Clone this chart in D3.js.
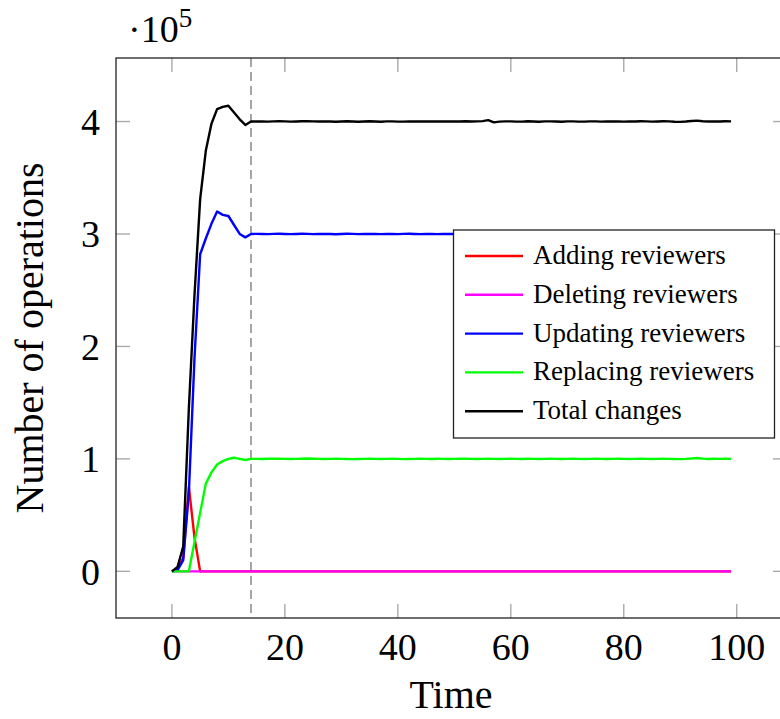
<!DOCTYPE html>
<html>
<head>
<meta charset="utf-8">
<script src="https://cdn.jsdelivr.net/npm/d3@7"></script>
<style>
  html, body { margin: 0; padding: 0; background: #fff; }
  svg { display: block; }
  text { font-family: "Liberation Serif", "Times New Roman", serif; fill: #000; }
</style>
</head>
<body>
<svg id="chart" width="780" height="719"></svg>
<script>
// ---- data (values in units of 10^5 operations) ----
const time = d3.range(0, 100);
const seriesNames = ["Adding reviewers", "Deleting reviewers", "Updating reviewers", "Replacing reviewers", "Total changes"];
const seriesColors = ["#ff0000", "#ff00ff", "#0000ff", "#00ff00", "#000000"];

const adding = [
  0, 0.02, 0.12, 0.75, 0.30, 0, 0, 0, 0, 0,
  0, 0, 0, 0, 0, 0, 0, 0, 0, 0,
  0, 0, 0, 0, 0, 0, 0, 0, 0, 0,
  0, 0, 0, 0, 0, 0, 0, 0, 0, 0,
  0, 0, 0, 0, 0, 0, 0, 0, 0, 0,
  0, 0, 0, 0, 0, 0, 0, 0, 0, 0,
  0, 0, 0, 0, 0, 0, 0, 0, 0, 0,
  0, 0, 0, 0, 0, 0, 0, 0, 0, 0,
  0, 0, 0, 0, 0, 0, 0, 0, 0, 0,
  0, 0, 0, 0, 0, 0, 0, 0, 0, 0];
const deleting = [
  0, 0, 0, 0, 0, 0, 0, 0, 0, 0,
  0, 0, 0, 0, 0, 0, 0, 0, 0, 0,
  0, 0, 0, 0, 0, 0, 0, 0, 0, 0,
  0, 0, 0, 0, 0, 0, 0, 0, 0, 0,
  0, 0, 0, 0, 0, 0, 0, 0, 0, 0,
  0, 0, 0, 0, 0, 0, 0, 0, 0, 0,
  0, 0, 0, 0, 0, 0, 0, 0, 0, 0,
  0, 0, 0, 0, 0, 0, 0, 0, 0, 0,
  0, 0, 0, 0, 0, 0, 0, 0, 0, 0,
  0, 0, 0, 0, 0, 0, 0, 0, 0, 0];
const updating = [
  0, 0.01, 0.10, 0.70, 1.90, 2.82, 2.96, 3.09, 3.20, 3.17,
  3.16, 3.08, 3.00, 2.97, 3.00, 3.001, 3.000, 2.999, 3.001, 3.002,
  3.000, 2.999, 3.000, 3.002, 3.001, 2.999, 3.000, 3.001, 3.000, 2.998,
  3.000, 3.002, 3.001, 2.999, 3.000, 3.001, 3.000, 2.999, 3.001, 3.000,
  2.999, 3.001, 3.002, 3.000, 2.999, 3.000, 3.001, 2.999, 3.000, 3.001,
  3.000, 2.999, 3.001, 3.000, 3.002, 3.004, 2.997, 2.999, 3.000, 3.001,
  3.000, 2.999, 3.000, 3.001, 3.000, 2.999, 3.001, 3.000, 3.000, 2.999,
  3.001, 3.000, 2.999, 3.000, 3.001, 3.000, 2.999, 3.001, 3.000, 3.000,
  2.999, 3.001, 3.000, 2.999, 3.001, 3.000, 3.000, 2.999, 3.001, 3.000,
  2.999, 3.000, 3.001, 3.000, 2.999, 3.001, 3.000, 2.999, 3.001, 3.000];
const replacing = [
  0, 0, 0, 0, 0.26, 0.52, 0.78, 0.88, 0.95, 0.98,
  1.00, 1.01, 1.00, 0.99, 1.00, 1.000, 0.999, 1.001, 1.002, 1.001,
  1.000, 0.999, 1.000, 1.001, 1.003, 1.001, 1.000, 0.999, 1.000, 1.001,
  1.000, 0.999, 0.998, 0.999, 1.000, 1.001, 1.000, 0.999, 1.000, 1.001,
  1.000, 0.998, 0.999, 1.000, 1.001, 1.000, 0.999, 1.001, 1.000, 0.999,
  1.000, 1.001, 1.002, 1.000, 0.999, 1.000, 1.001, 1.000, 0.999, 1.000,
  1.001, 1.000, 0.999, 1.001, 1.000, 0.999, 1.000, 1.001, 1.000, 0.999,
  1.000, 1.001, 1.000, 0.999, 1.000, 1.001, 1.000, 0.999, 1.000, 1.001,
  1.000, 0.999, 1.000, 1.001, 1.000, 0.999, 1.000, 1.001, 1.000, 0.999,
  0.998, 1.000, 1.004, 1.008, 1.002, 0.999, 1.001, 1.000, 1.001, 1.000];
const total = [
  0, 0.04, 0.22, 1.45, 2.46, 3.31, 3.74, 3.98, 4.11, 4.13,
  4.14, 4.08, 4.02, 3.97, 4.00, 4.001, 4.000, 3.999, 4.001, 4.003,
  4.001, 3.999, 4.000, 4.002, 4.004, 4.001, 4.000, 4.001, 4.000, 3.998,
  4.000, 4.002, 4.000, 3.998, 4.000, 4.002, 4.000, 3.998, 4.001, 4.001,
  3.999, 3.999, 4.001, 4.000, 4.000, 4.000, 4.000, 4.000, 4.000, 4.000,
  4.000, 4.000, 4.003, 4.000, 4.001, 4.004, 4.012, 3.993, 3.999, 4.001,
  4.001, 3.999, 3.999, 4.002, 4.000, 3.998, 4.001, 4.001, 4.000, 3.998,
  4.001, 4.001, 3.999, 3.999, 4.001, 4.001, 3.999, 4.000, 4.000, 4.001,
  3.999, 4.000, 4.000, 4.002, 4.001, 3.999, 4.000, 4.002, 4.001, 3.998,
  3.997, 4.000, 4.005, 4.008, 4.002, 4.000, 4.001, 4.000, 4.002, 4.001];

const xTicks = [0, 20, 40, 60, 80, 100];
const yTicks = [0, 1, 2, 3, 4];
const markerTime = 14;
const xLabel = "Time";
const yLabel = "Number of operations";

// ---- layout ----
const svg = d3.select("#chart");
const L = 116, R = 787, T = 58, B = 618;
const x = d3.scaleLinear().domain([-9.9, 108.9]).range([L, R]);
const y = d3.scaleLinear().domain([-0.415, 4.565]).range([B, T]);

const tickLen = 14;
const tickColor = "#aaaaaa";
const tickFont = 38;

// ticks (inside, on all four sides)
const tg = svg.append("g");
xTicks.forEach(v => {
  tg.append("line").attr("x1", x(v)).attr("x2", x(v)).attr("y1", B).attr("y2", B - tickLen)
    .attr("stroke", tickColor).attr("stroke-width", 1.4);
  tg.append("line").attr("x1", x(v)).attr("x2", x(v)).attr("y1", T).attr("y2", T + tickLen)
    .attr("stroke", tickColor).attr("stroke-width", 1.4);
  svg.append("text").attr("x", x(v)).attr("y", 660).attr("text-anchor", "middle")
    .attr("font-size", tickFont).text(v);
});
yTicks.forEach(v => {
  tg.append("line").attr("x1", L).attr("x2", L + tickLen).attr("y1", y(v)).attr("y2", y(v))
    .attr("stroke", tickColor).attr("stroke-width", 1.4);
  tg.append("line").attr("x1", R).attr("x2", R - tickLen).attr("y1", y(v)).attr("y2", y(v))
    .attr("stroke", tickColor).attr("stroke-width", 1.4);
  svg.append("text").attr("x", 100).attr("y", y(v) + 13.5).attr("text-anchor", "end")
    .attr("font-size", tickFont).text(v);
});

// dashed marker line
svg.append("line").attr("x1", x(markerTime)).attr("x2", x(markerTime)).attr("y1", T).attr("y2", B)
  .attr("stroke", "#808080").attr("stroke-width", 1.4).attr("stroke-dasharray", "9,5");

// series
const seriesData = [adding, deleting, updating, replacing, total];
const line = d3.line().x((d, i) => x(time[i])).y(d => y(d));
seriesData.forEach((s, k) => {
  svg.append("path").datum(s).attr("d", line).attr("fill", "none")
    .attr("stroke", seriesColors[k]).attr("stroke-width", 2.4).attr("stroke-linejoin", "round");
});

// frame
svg.append("rect").attr("x", L).attr("y", T).attr("width", R - L).attr("height", B - T)
  .attr("fill", "none").attr("stroke", "#222").attr("stroke-width", 1.3);

// scale annotation ·10^5
const sc = svg.append("text").attr("x", 128).attr("y", 42).attr("font-size", tickFont);
sc.append("tspan").text("·10");
sc.append("tspan").attr("font-size", 27).attr("dy", -15).text("5");

// axis labels
svg.append("text").attr("x", 451).attr("y", 708).attr("text-anchor", "middle")
  .attr("font-size", 40).text(xLabel);
svg.append("text").attr("transform", `translate(43,${(T + B) / 2}) rotate(-90)`)
  .attr("text-anchor", "middle").attr("font-size", 40).text(yLabel);

// legend
const lg = svg.append("g");
lg.append("rect").attr("x", 453.5).attr("y", 230).attr("width", 321).attr("height", 208)
  .attr("fill", "#fff").attr("stroke", "#222").attr("stroke-width", 1.3);
seriesNames.forEach((n, k) => {
  const yy = 256 + k * 38.8;
  lg.append("line").attr("x1", 465).attr("x2", 523).attr("y1", yy).attr("y2", yy)
    .attr("stroke", seriesColors[k]).attr("stroke-width", 2.4);
  lg.append("text").attr("x", 533).attr("y", yy + 8).attr("font-size", 27).text(n);
});
</script>
</body>
</html>
